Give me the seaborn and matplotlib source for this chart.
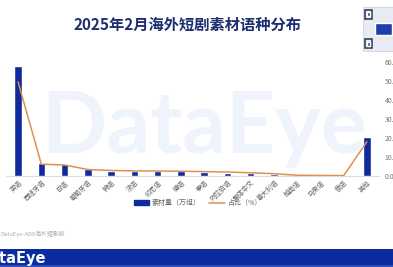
import matplotlib
matplotlib.use("Agg")
import matplotlib.pyplot as plt
import seaborn as sns
import numpy as np
import pandas as pd
from matplotlib.patches import Rectangle
from matplotlib.lines import Line2D

categories = ["英语", "西班牙语", "日语", "葡萄牙语", "韩语", "法语", "印尼语", "德语",
              "泰语", "阿拉伯语", "繁体中文", "意大利语", "越南语", "马来语", "俄语", "其他"]
volume = [58.0, 6.8, 6.3, 3.8, 2.8, 2.6, 2.6, 2.8, 2.1, 1.8, 1.6, 0.9, 0.1, 0.1, 0.1, 20.5]
share = [49.5, 6.2, 5.8, 3.4, 2.9, 2.7, 2.6, 2.5, 2.3, 2.1, 1.7, 1.2, 0.4, 0.3, 0.2, 18.0]
pct_ticks = [0, 10, 20, 30, 40, 50, 60]

df = pd.DataFrame({"cat": categories, "vol": volume, "share": share,
                   "pos": np.arange(len(categories))})

sns.set_theme(style="white")
plt.rcParams['font.family'] = ['Noto Sans CJK SC', 'DejaVu Sans']

W, H = 393, 267
fig = plt.figure(figsize=(W / 100, H / 100), dpi=100)
fig.patch.set_facecolor("white")

# watermark
fig.text(0.52, 0.52, "DataEye", fontsize=62, fontweight="bold", color="#eff4fc",
         ha="center", va="center", family="Lato", zorder=0)

ax = fig.add_axes([6 / W, 1 - 176 / H, (379 - 6) / W, (176 - 62) / H])
ax.patch.set_alpha(0)
bar_color = "#0f2a9c"
line_color = "#dd9052"
sns.barplot(data=df, x="cat", y="vol", color=bar_color, width=0.32, ax=ax,
            saturation=1, zorder=3)
ax.set_xlim(-0.52, len(categories) - 0.48)
ax.set_ylim(0, 60)
ax.set_xlabel("")
ax.set_ylabel("")
ax.set_yticks([])
for s in ["top", "right", "left"]:
    ax.spines[s].set_visible(False)
ax.spines["bottom"].set_color("#dddddd")
ax.spines["bottom"].set_linewidth(0.8)
ax.tick_params(axis="x", length=0, pad=2)
ax.set_xticks(range(len(categories)))
ax.set_xticklabels(categories, rotation=45, ha="right", rotation_mode="anchor",
                   fontsize=4.8, color="#666666")

ax2 = ax.twinx()
sns.lineplot(data=df, x="pos", y="share", color=line_color, linewidth=1.1, ax=ax2,
             zorder=4)
ax2.set_ylim(0, 60)
ax2.set_xlim(ax.get_xlim())
ax2.set_yticks(pct_ticks)
ax2.set_yticklabels([f"{v:.2f}%" for v in pct_ticks], fontsize=5, color="#777777")
ax2.tick_params(axis="y", length=0, pad=4)
ax2.set_ylabel("")
ax2.set_xlabel("")
for s in ["top", "right", "left", "bottom"]:
    ax2.spines[s].set_visible(False)

# title
fig.text(188 / W, 1 - 25 / H, "2025年2月海外短剧素材语种分布", fontsize=11,
         fontweight="bold", color="#1e2e6e", ha="center", va="center")

# legend
handles = [Rectangle((0, 0), 1, 1, color=bar_color),
           Line2D([0], [0], color=line_color, linewidth=1.1)]
fig.legend(handles, ["素材量（万组）", "占比（%）"], loc="center",
           bbox_to_anchor=(198 / W, 1 - 203 / H), ncol=2, frameon=False,
           fontsize=5, labelcolor="#666666", handlelength=2.2, handleheight=0.6,
           columnspacing=1.2, handletextpad=0.4)

# source
fig.text(0 / W, 1 - 234 / H, "DataEye-ADX海外短剧版", fontsize=4.2, color="#aaaaaa",
         ha="left", va="center")

# bottom banner
fig.patches.append(Rectangle((0, 0), 1, 18 / H, transform=fig.transFigure,
                             facecolor="#0b2c9e", edgecolor="none", zorder=1))
fig.patches.append(Rectangle((0, 0), 1, 2 / H, transform=fig.transFigure,
                             facecolor="#2a4bb5", edgecolor="none", zorder=2))
fig.text(-22 / W, 9 / H, "DataEye", fontsize=10.5, color="white", fontweight="bold",
         ha="left", va="center", family="DejaVu Sans", zorder=3)

# QR code placeholder
qr = fig.add_axes([362 / W, 1 - 52 / H, 33 / W, 46 / H])
qr.set_xlim(0, 1)
qr.set_ylim(0, 1)
qr.axis("off")
qr.add_patch(Rectangle((0.02, 0.02), 0.96, 0.96, facecolor="#e8ebf2", edgecolor="#c8ccd6", lw=0.5))
for (x0, y0) in [(0.08, 0.72), (0.08, 0.08)]:
    qr.add_patch(Rectangle((x0, y0), 0.22, 0.2, facecolor="none", edgecolor="#34405e", lw=1.2))
    qr.add_patch(Rectangle((x0 + 0.07, y0 + 0.06), 0.08, 0.08, facecolor="#34405e"))
qr.add_patch(Rectangle((0.4, 0.38), 0.5, 0.26, facecolor="#1f3fae"))

fig.savefig("out.png", dpi=100, facecolor="white")
